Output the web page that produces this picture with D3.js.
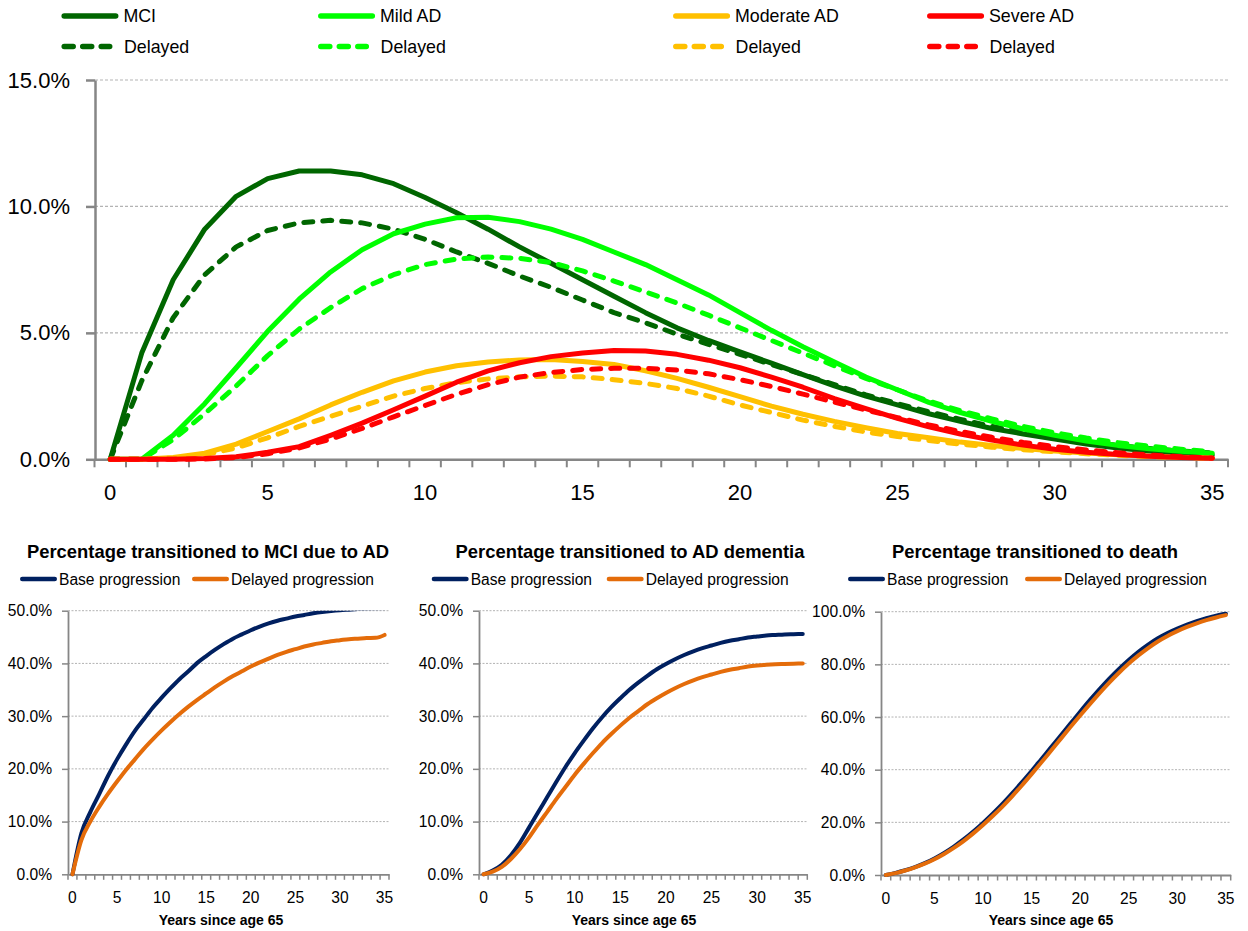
<!DOCTYPE html>
<html><head><meta charset="utf-8">
<script src="https://cdn.jsdelivr.net/npm/d3@7"></script>
<style>
body{margin:0;background:#fff}
svg{display:block}
</style>
</head><body>
<svg id="c" width="1248" height="931"></svg>
<script>
// ---------------- DATA ----------------
const years = d3.range(0, 36);
const mainYTicks = [0, 5, 10, 15];
const xLabelYears = [0, 5, 10, 15, 20, 25, 30, 35];

// Top chart: annual percentage in each state
const mci        = [0, 4.2, 7.1, 9.1, 10.4, 11.1, 11.4, 11.4, 11.25, 10.9, 10.35, 9.75, 9.1, 8.4, 7.75, 7.1, 6.45, 5.8, 5.2, 4.7, 4.25, 3.8, 3.35, 2.9, 2.5, 2.15, 1.8, 1.5, 1.22, 1.0, 0.8, 0.6, 0.45, 0.33, 0.24, 0.17];
const mciDelayed = [0, 3.1, 5.6, 7.3, 8.4, 9.05, 9.35, 9.45, 9.35, 9.1, 8.7, 8.2, 7.75, 7.25, 6.8, 6.3, 5.8, 5.4, 4.95, 4.55, 4.15, 3.75, 3.35, 2.95, 2.55, 2.2, 1.88, 1.58, 1.3, 1.07, 0.87, 0.7, 0.55, 0.43, 0.33, 0.25];
const mild        = [0, 0, 0.95, 2.2, 3.62, 5.06, 6.33, 7.41, 8.29, 8.92, 9.3, 9.55, 9.57, 9.4, 9.1, 8.7, 8.2, 7.7, 7.1, 6.5, 5.8, 5.1, 4.45, 3.85, 3.25, 2.75, 2.25, 1.85, 1.5, 1.2, 0.95, 0.72, 0.55, 0.42, 0.32, 0.24];
const mildDelayed = [0, 0, 0.78, 1.8, 2.9, 4.1, 5.15, 6.0, 6.75, 7.3, 7.7, 7.92, 8.0, 7.95, 7.78, 7.45, 7.05, 6.62, 6.18, 5.7, 5.2, 4.7, 4.2, 3.7, 3.2, 2.75, 2.3, 1.92, 1.6, 1.3, 1.05, 0.84, 0.66, 0.52, 0.4, 0.3];
const moderate        = [0, 0, 0.07, 0.24, 0.6, 1.1, 1.6, 2.15, 2.65, 3.1, 3.45, 3.7, 3.85, 3.93, 3.95, 3.87, 3.75, 3.5, 3.2, 2.85, 2.48, 2.1, 1.78, 1.5, 1.25, 1.02, 0.85, 0.68, 0.55, 0.43, 0.33, 0.25, 0.18, 0.12, 0.08, 0.05];
const moderateDelayed = [0, 0, 0.05, 0.18, 0.45, 0.85, 1.3, 1.7, 2.1, 2.5, 2.8, 3.03, 3.18, 3.26, 3.29, 3.26, 3.15, 3.0, 2.8, 2.5, 2.15, 1.85, 1.55, 1.3, 1.08, 0.9, 0.74, 0.6, 0.48, 0.38, 0.3, 0.22, 0.16, 0.11, 0.07, 0.04];
const severe        = [0, 0, 0, 0.03, 0.1, 0.28, 0.5, 0.95, 1.43, 1.96, 2.5, 3.05, 3.5, 3.82, 4.06, 4.2, 4.3, 4.28, 4.15, 3.92, 3.62, 3.25, 2.85, 2.4, 2.0, 1.62, 1.28, 1.0, 0.76, 0.56, 0.4, 0.28, 0.19, 0.12, 0.07, 0.04];
const severeDelayed = [0, 0, 0, 0.01, 0.07, 0.22, 0.45, 0.8, 1.22, 1.68, 2.13, 2.57, 2.95, 3.25, 3.43, 3.55, 3.6, 3.6, 3.53, 3.38, 3.15, 2.88, 2.58, 2.26, 1.95, 1.65, 1.36, 1.1, 0.87, 0.67, 0.5, 0.37, 0.26, 0.17, 0.1, 0.05];

// Bottom charts: cumulative percentage transitioned
const cumMciBase     = [0, 7.8, 11.8, 15.2, 18.7, 21.8, 24.6, 27.2, 29.4, 31.6, 33.5, 35.3, 37.0, 38.5, 40.1, 41.4, 42.6, 43.7, 44.7, 45.5, 46.3, 47.0, 47.6, 48.1, 48.5, 48.9, 49.2, 49.5, 49.75, 49.95, 50.1, 50.2, 50.3, 50.35, 50.4, 50.45];
const cumMciDelayed  = [0, 6.5, 10.0, 12.8, 15.3, 17.6, 19.8, 21.8, 23.8, 25.6, 27.3, 28.9, 30.4, 31.8, 33.1, 34.3, 35.5, 36.6, 37.6, 38.5, 39.4, 40.2, 40.9, 41.6, 42.2, 42.7, 43.2, 43.6, 43.9, 44.2, 44.4, 44.6, 44.7, 44.8, 44.85, 45.4];
const cumAdBase      = [0, 0.7, 1.8, 3.6, 6.0, 8.9, 11.8, 14.7, 17.6, 20.4, 23.0, 25.4, 27.7, 29.8, 31.7, 33.4, 35.0, 36.4, 37.7, 38.9, 39.9, 40.8, 41.6, 42.3, 42.9, 43.4, 43.9, 44.3, 44.6, 44.9, 45.1, 45.3, 45.4, 45.5, 45.55, 45.6];
const cumAdDelayed   = [0, 0.5, 1.4, 2.9, 4.8, 7.0, 9.5, 11.9, 14.3, 16.6, 18.9, 21.0, 23.0, 24.9, 26.6, 28.2, 29.7, 31.0, 32.3, 33.4, 34.4, 35.3, 36.1, 36.8, 37.4, 37.9, 38.4, 38.8, 39.1, 39.4, 39.6, 39.75, 39.85, 39.9, 39.95, 40.0];
const cumDeathBase   = [0, 0.8, 1.8, 3.0, 4.5, 6.3, 8.4, 10.8, 13.5, 16.5, 19.8, 23.3, 27.0, 31.0, 35.2, 39.5, 44.0, 48.5, 53.0, 57.5, 62.0, 66.4, 70.6, 74.6, 78.3, 81.7, 84.8, 87.5, 89.9, 91.9, 93.6, 95.1, 96.4, 97.5, 98.5, 99.3];
const cumDeathDelayed= [0, 0.7, 1.7, 2.9, 4.3, 6.0, 8.0, 10.3, 12.9, 15.8, 19.0, 22.4, 26.0, 29.9, 34.0, 38.3, 42.7, 47.2, 51.7, 56.2, 60.6, 64.9, 69.1, 73.1, 76.8, 80.3, 83.4, 86.2, 88.7, 90.8, 92.6, 94.2, 95.6, 96.8, 97.8, 98.7];

const panelTitles = ["Percentage transitioned to MCI due to AD", "Percentage transitioned to AD dementia", "Percentage transitioned to death"];
const panelLegend = ["Base progression", "Delayed progression"];
const xAxisTitle = "Years since age 65";

// ---------------- DRAW ----------------
const FONT = '"Liberation Sans", Arial, sans-serif';
const AXIS = "#868686";
const GRID = "#b3b3b3";
const svg = d3.select("#c");

const series = [
  {name: "MCI",         values: mci,             color: "#006600", dashed: false, col: 0, row: 0},
  {name: "Delayed",     values: mciDelayed,      color: "#006600", dashed: true,  col: 0, row: 1},
  {name: "Mild AD",     values: mild,            color: "#00FF00", dashed: false, col: 1, row: 0},
  {name: "Delayed",     values: mildDelayed,     color: "#00FF00", dashed: true,  col: 1, row: 1},
  {name: "Moderate AD", values: moderate,        color: "#FFC000", dashed: false, col: 2, row: 0},
  {name: "Delayed",     values: moderateDelayed, color: "#FFC000", dashed: true,  col: 2, row: 1},
  {name: "Severe AD",   values: severe,          color: "#FF0000", dashed: false, col: 3, row: 0},
  {name: "Delayed",     values: severeDelayed,   color: "#FF0000", dashed: true,  col: 3, row: 1}
];

// Main chart scales
const mx = d3.scaleBand().domain(years).range([94.5, 1228]).paddingInner(0).paddingOuter(0);
const mcx = t => mx(t) + mx.bandwidth() / 2;
const my = d3.scaleLinear().domain([0, 15]).range([459.3, 80]);

// gridlines
svg.append("g").selectAll("line").data(mainYTicks.filter(v => v > 0)).join("line")
  .attr("x1", 95).attr("x2", 1229)
  .attr("y1", d => my(d)).attr("y2", d => my(d))
  .attr("stroke", GRID).attr("stroke-width", 1.2).attr("stroke-dasharray", "3,2");

// x axis
const xAx = svg.append("g").attr("transform", `translate(0,${my(0)})`)
  .call(d3.axisBottom(mx).tickValues(xLabelYears).tickSize(0).tickSizeOuter(0).tickPadding(25));
xAx.attr("font-family", FONT).attr("font-size", 22);
xAx.select(".domain").attr("stroke", AXIS).attr("stroke-width", 2.5);
xAx.selectAll("text").attr("fill", "#000");
svg.append("g").selectAll("line").data(d3.range(0, years.length + 1)).join("line")
  .attr("x1", k => mx.range()[0] + k * mx.bandwidth())
  .attr("x2", k => mx.range()[0] + k * mx.bandwidth())
  .attr("y1", my(0)).attr("y2", my(0) + 8)
  .attr("stroke", AXIS).attr("stroke-width", 2);

// y axis
const yAx = svg.append("g").attr("transform", "translate(95,0)")
  .call(d3.axisLeft(my).tickValues(mainYTicks).tickSize(9).tickSizeOuter(0).tickPadding(16)
    .tickFormat(d => d.toFixed(1) + "%"));
yAx.attr("font-family", FONT).attr("font-size", 22);
yAx.select(".domain").attr("stroke", AXIS).attr("stroke-width", 2.5);
yAx.selectAll(".tick line").attr("stroke", AXIS).attr("stroke-width", 2.5);
yAx.selectAll("text").attr("fill", "#000");

// lines
const mline = d3.line().x((d, i) => mcx(years[i])).y(d => my(d));
svg.append("g").selectAll("path").data(series).join("path")
  .attr("d", s => mline(s.values))
  .attr("fill", "none")
  .attr("stroke", s => s.color)
  .attr("stroke-width", 5)
  .attr("stroke-linejoin", "round")
  .attr("stroke-linecap", "round")
  .attr("stroke-dasharray", s => s.dashed ? "9,10" : null);

// legend
const legCols = [61.7, 318.3, 673.3, 927.3];
const legRows = [16, 46.5];
const lg = svg.append("g").selectAll("g").data(series).join("g")
  .attr("transform", s => `translate(${legCols[s.col]},${legRows[s.row]})`);
lg.append("line")
  .attr("x1", 2.5).attr("x2", s => s.dashed ? 48 : 54)
  .attr("y1", 0).attr("y2", 0)
  .attr("stroke", s => s.color).attr("stroke-width", 5.5)
  .attr("stroke-linecap", "round")
  .attr("stroke-dasharray", s => s.dashed ? "9,9.5" : null);
lg.append("text")
  .attr("x", s => s.row === 0 ? 61.7 : 62.3).attr("y", 6.4)
  .attr("font-family", FONT).attr("font-size", 17.8).attr("fill", "#000")
  .text(s => s.name);

// ---------------- Bottom panels ----------------
const panels = [
  {title: panelTitles[0], base: cumMciBase,   delayed: cumMciDelayed,   x0: 68,  x1: 389,   yTop: 610.7, yBot: 874.3, max: 50,  step: 10,
   titleX: 208, legX: [20, 192], axTitleX: 221},
  {title: panelTitles[1], base: cumAdBase,    delayed: cumAdDelayed,    x0: 479, x1: 807.3, yTop: 610.7, yBot: 874.3, max: 50,  step: 10,
   titleX: 630, legX: [431.7, 606.7], axTitleX: 634},
  {title: panelTitles[2], base: cumDeathBase, delayed: cumDeathDelayed, x0: 881, x1: 1230.7, yTop: 611.7, yBot: 875, max: 100, step: 20,
   titleX: 1035, legX: [848, 1025], axTitleX: 1051}
];
const BASE_C = "#002060", DEL_C = "#E46C0A";

panels.forEach((p, pi) => {
  const g = svg.append("g");
  const x = d3.scaleBand().domain(years).range([p.x0, p.x1]);
  const cx = t => x(t) + x.bandwidth() / 2;
  const y = d3.scaleLinear().domain([0, p.max]).range([p.yBot, p.yTop]);
  const ticks = d3.range(0, p.max + 0.001, p.step);

  // title
  g.append("text").attr("x", p.titleX).attr("y", 557.5).attr("text-anchor", "middle")
    .attr("font-family", FONT).attr("font-weight", "bold").attr("font-size", 18.4).attr("fill", "#000")
    .text(p.title);
  // legend
  [[panelLegend[0], BASE_C], [panelLegend[1], DEL_C]].forEach(([lab, col], li) => {
    const lx = p.legX[li];
    g.append("line").attr("x1", lx + 2.3).attr("x2", lx + 34.7).attr("y1", 579).attr("y2", 579)
      .attr("stroke", col).attr("stroke-width", 4.6).attr("stroke-linecap", "round");
    g.append("text").attr("x", lx + 39).attr("y", 584.7)
      .attr("font-family", FONT).attr("font-size", 15.6).attr("fill", "#000").text(lab);
  });

  // grid
  g.append("g").selectAll("line").data(ticks.filter(v => v > 0)).join("line")
    .attr("x1", p.x0).attr("x2", p.x1).attr("y1", d => y(d)).attr("y2", d => y(d))
    .attr("stroke", GRID).attr("stroke-width", 1).attr("stroke-dasharray", "2,1.5");

  // x axis
  const xa = g.append("g").attr("transform", `translate(0,${p.yBot})`)
    .call(d3.axisBottom(x).tickValues(xLabelYears).tickSize(0).tickSizeOuter(0).tickPadding(17.5));
  xa.attr("font-family", FONT).attr("font-size", 15.6);
  xa.select(".domain").attr("stroke", AXIS).attr("stroke-width", 1.8);
  xa.selectAll("text").attr("fill", "#000");
  g.append("g").selectAll("line").data(d3.range(0, years.length + 1)).join("line")
    .attr("x1", k => p.x0 + k * x.bandwidth()).attr("x2", k => p.x0 + k * x.bandwidth())
    .attr("y1", p.yBot).attr("y2", p.yBot + 5.5)
    .attr("stroke", AXIS).attr("stroke-width", 1.5);

  // y axis
  const ya = g.append("g").attr("transform", `translate(${p.x0},0)`)
    .call(d3.axisLeft(y).tickValues(ticks).tickSize(6).tickSizeOuter(0).tickPadding(10)
      .tickFormat(d => d.toFixed(1) + "%"));
  ya.attr("font-family", FONT).attr("font-size", 15.6);
  ya.select(".domain").attr("stroke", AXIS).attr("stroke-width", 1.8);
  ya.selectAll(".tick line").attr("stroke", AXIS).attr("stroke-width", 1.5);
  ya.selectAll("text").attr("fill", "#000");

  // axis title
  g.append("text").attr("x", p.axTitleX).attr("y", 925).attr("text-anchor", "middle")
    .attr("font-family", FONT).attr("font-weight", "bold").attr("font-size", 14).attr("fill", "#000")
    .text(xAxisTitle);

  // clip
  const cid = "clip" + pi;
  svg.append("clipPath").attr("id", cid).append("rect")
    .attr("x", p.x0 - 5).attr("y", p.yTop).attr("width", p.x1 - p.x0 + 10).attr("height", p.yBot - p.yTop + 5);
  const line = d3.line().x((d, i) => cx(years[i])).y(d => y(d)).curve(d3.curveMonotoneX);
  g.append("g").attr("clip-path", `url(#${cid})`).selectAll("path")
    .data([[p.base, BASE_C], [p.delayed, DEL_C]]).join("path")
    .attr("d", d => line(d[0])).attr("fill", "none").attr("stroke", d => d[1])
    .attr("stroke-width", 4).attr("stroke-linejoin", "round").attr("stroke-linecap", "round");
});
</script>
</body></html>
